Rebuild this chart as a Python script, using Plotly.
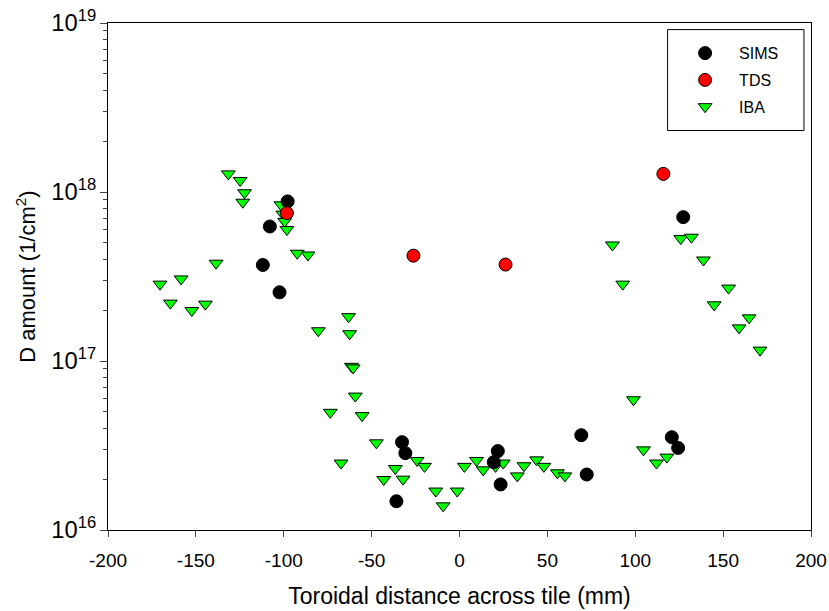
import plotly.graph_objects as go

# SIMS data (x in mm, D amount in 1/cm^2)
sims_x = [-97.8, -107.9, -111.9, -102.4, -32.7, -30.8, -35.9, 21.8, 19.5, 23.4, 69.3, 72.4, 120.8, 124.4, 127.3]
sims_y = [8.8e17, 6.25e17, 3.7e17, 2.55e17, 3.31e16, 2.85e16, 1.48e16, 2.93e16, 2.52e16, 1.86e16, 3.64e16, 2.13e16, 3.54e16, 3.06e16, 7.1e17]

# TDS data
tds_x = [-98.2, -26.2, 26.2, 116.0]
tds_y = [7.5e17, 4.2e17, 3.72e17, 1.28e18]

# IBA data
iba_x = [-131.5, -124.8, -122.3, -123.3, -101.6, -100.5, -99.5, -98.2, -92.3, -86.2,
         -138.5, -170.4, -158.4, -164.5, -152.3, -144.6, -80.3, -63.1, -62.5,
         -61.5, -60.5, -59.3, -73.5, -55.4, -47.3, -67.4, -36.5, -43.1, -32.1,
         -24.1, -19.9, -13.5, -9.3, -1.3, 2.8, 9.7, 13.5, 20.5, 24.9, 32.9,
         36.7, 43.9, 48.0, 55.7, 60.0, 99.0, 104.7, 112.1, 118.0,
         87.0, 125.9, 132.0, 138.8, 92.9, 153.1, 144.9, 164.8, 159.1, 171.0]
iba_y = [1.28e18, 1.17e18, 9.9e17, 8.7e17, 8.4e17, 7.4e17, 6.7e17, 6.0e17, 4.34e17, 4.24e17,
         3.79e17, 2.85e17, 3.06e17, 2.2e17, 1.99e17, 2.17e17, 1.51e17, 1.83e17, 1.45e17,
         9.3e16, 9.1e16, 6.2e16, 4.97e16, 4.75e16, 3.28e16, 2.49e16, 2.31e16, 1.99e16, 2.0e16,
         2.58e16, 2.38e16, 1.70e16, 1.39e16, 1.70e16, 2.38e16, 2.58e16, 2.27e16, 2.38e16, 2.49e16, 2.09e16,
         2.4e16, 2.6e16, 2.38e16, 2.18e16, 2.09e16, 5.9e16, 2.98e16, 2.49e16, 2.7e16,
         4.86e17, 5.3e17, 5.4e17, 3.96e17, 2.85e17, 2.7e17, 2.15e17, 1.8e17, 1.57e17, 1.16e17]

x_ticks = [-200, -150, -100, -50, 0, 50, 100, 150, 200]
x_tick_labels = ["-200", "-150", "-100", "-50", "0", "50", "100", "150", "200"]

fig = go.Figure()
fig.add_trace(go.Scatter(x=iba_x, y=iba_y, mode="markers", name="IBA", legendgroup="c", legendrank=3,
                         marker=dict(symbol="triangle-down", size=12, color="#00ff00",
                                     line=dict(color="black", width=1))))
fig.add_trace(go.Scatter(x=sims_x, y=sims_y, mode="markers", name="SIMS", legendgroup="a", legendrank=1,
                         marker=dict(symbol="circle", size=13, color="black",
                                     line=dict(color="black", width=1))))
fig.add_trace(go.Scatter(x=tds_x, y=tds_y, mode="markers", name="TDS", legendgroup="b", legendrank=2,
                         marker=dict(symbol="circle", size=13, color="#ff0000",
                                     line=dict(color="black", width=1))))

fig.update_layout(
    width=829, height=611,
    margin=dict(l=108, r=18, t=23, b=81, autoexpand=False),
    paper_bgcolor="white", plot_bgcolor="white",
    font=dict(family="Liberation Sans, Arial, sans-serif", size=19, color="black"),
    showlegend=True,
    legend=dict(x=0.801, y=0.974, xanchor="left", yanchor="top",
                bgcolor="rgba(0,0,0,0)", borderwidth=0, tracegroupgap=3,
                font=dict(size=16), itemwidth=58),
    xaxis=dict(range=[-200, 200], tickvals=x_ticks, ticktext=x_tick_labels,
               ticks="outside", ticklen=6, automargin=False, ticklabelstandoff=7,
               ticklabeloverflow="allow",
               showline=True, linecolor="black", linewidth=1, mirror=True,
               showgrid=False, zeroline=False,
               title=dict(text="Toroidal distance across tile (mm)", font=dict(size=23), standoff=18),
               tickfont=dict(size=19)),
    yaxis=dict(type="log", range=[16, 19], dtick=1, exponentformat="power",
               ticks="outside", ticklen=7, automargin=False, ticklabeloverflow="allow",
               minor=dict(ticks="outside", ticklen=4, dtick="D1", showgrid=False),
               showline=True, linecolor="black", linewidth=1, mirror=True,
               showgrid=False, zeroline=False,
               title=dict(text="D amount (1/cm<sup>2</sup>)", font=dict(size=22), standoff=9),
               tickfont=dict(size=19)),
    shapes=[dict(type="rect", xref="paper", yref="paper", x0=0.796, x1=0.990, y0=0.788, y1=0.987,
                 line=dict(color="black", width=1), fillcolor="rgba(0,0,0,0)")],
)

fig.write_html("out.html", config={"displayModeBar": False},
               post_script="document.body.style.margin='0';")
